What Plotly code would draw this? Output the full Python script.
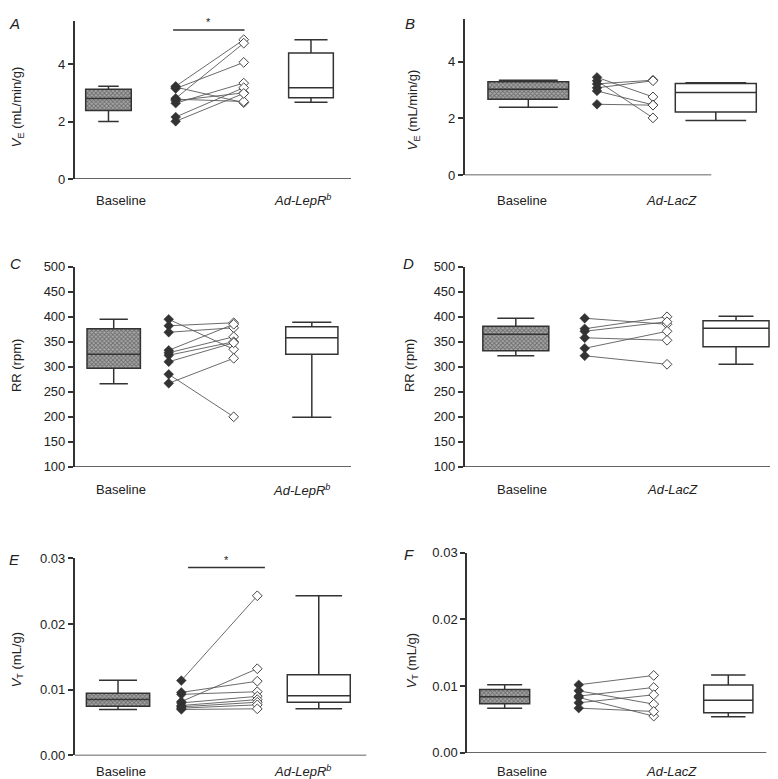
import plotly.graph_objects as go

W, H = 778, 779

# ---------------- data (box stats: min, q1, median, q3, max) ----------------
A_baseline_box = [2.00, 2.39, 2.80, 3.13, 3.23]
A_treat_box = [2.67, 2.83, 3.18, 4.39, 4.85]
A_before = [3.23, 3.15, 2.81, 3.20, 2.78, 2.73, 2.64, 2.16, 2.01]
A_after = [4.85, 4.06, 4.73, 2.66, 2.70, 3.00, 3.34, 3.18, 2.98]

B_baseline_box = [2.40, 2.68, 3.03, 3.30, 3.35]
B_treat_box = [1.93, 2.23, 2.92, 3.23, 3.26]
B_before = [3.45, 3.33, 3.22, 3.08, 2.97, 2.50]
B_after = [2.76, 2.02, 3.35, 3.33, 2.48, 2.47]

C_baseline_box = [266, 297, 325, 376, 395]
C_treat_box = [199, 325, 358, 380, 389]
C_before = [395, 382, 369, 333, 328, 323, 310, 285, 267]
C_after = [335, 388, 378, 385, 360, 350, 348, 200, 317]

D_baseline_box = [322, 332, 365, 381, 397]
D_treat_box = [305, 340, 377, 392, 401]
D_before = [397, 376, 371, 358, 337, 322]
D_after = [385, 400, 390, 353, 371, 305]

E_baseline_box = [0.0070, 0.0075, 0.0085, 0.00945, 0.01145]
E_treat_box = [0.0071, 0.0081, 0.0091, 0.0123, 0.0243]
E_before = [0.0114, 0.0096, 0.0093, 0.0082, 0.0080, 0.0076, 0.0074, 0.0072, 0.0070]
E_after = [0.0243, 0.0113, 0.0097, 0.0132, 0.0090, 0.0085, 0.0081, 0.0077, 0.0071]

F_baseline_box = [0.0067, 0.00735, 0.0084, 0.0095, 0.0102]
F_treat_box = [0.0054, 0.0060, 0.0079, 0.01015, 0.01166]
F_before = [0.0102, 0.0093, 0.0085, 0.0083, 0.0075, 0.0067]
F_after = [0.0116, 0.0073, 0.0098, 0.0055, 0.0087, 0.0062]

treat_labels = {"A": "<i>Ad-LepR</i><sup><i>b</i></sup>", "B": "<i>Ad-LacZ</i>",
                "C": "<i>Ad-LepR</i><sup><i>b</i></sup>", "D": "<i>Ad-LacZ</i>",
                "E": "<i>Ad-LepR</i><sup><i>b</i></sup>", "F": "<i>Ad-LacZ</i>"}
ve_title = "<i>V</i><sub>E</sub> (mL/min/g)"
rr_title = "RR (rpm)"
vt_title = "<i>V</i><sub>T</sub> (mL/g)"
ve_ticks = [0, 2, 4]
rr_ticks = [100, 150, 200, 250, 300, 350, 400, 450, 500]
vt_ticks = [0.00, 0.01, 0.02, 0.03]

data = {
    "A": (A_baseline_box, A_treat_box, A_before, A_after),
    "B": (B_baseline_box, B_treat_box, B_before, B_after),
    "C": (C_baseline_box, C_treat_box, C_before, C_after),
    "D": (D_baseline_box, D_treat_box, D_before, D_after),
    "E": (E_baseline_box, E_treat_box, E_before, E_after),
    "F": (F_baseline_box, F_treat_box, F_before, F_after),
}

# ---------------- layout geometry (pixels of the 778x779 page) ----------------
UNIT = 60.0  # px per x data unit
geo = {
    "A": dict(x0=66.7, x1=388, yt=6.15, yb=167.3, yr=[0, 5.5], pos=[0.563, 1.683, 2.817, 3.938],
              bw=[0.76, 0.745], ww=[0.45, 0.74], xend=4.605, ticks=ve_ticks, fmt="{:g}", title=ve_title,
              tpos=(9, 94), labx=(113, 294), laby=189, let=(6, 9)),
    "B": dict(x0=456.7, x1=778, yt=4.35, yb=163.3, yr=[0, 5.5], pos=[1.06, 2.205, 3.138, 4.185],
              bw=[1.345, 1.35], ww=[0.73, 0.75], xend=4.11, ticks=ve_ticks, fmt="{:g}", title=ve_title,
              tpos=(405, 97), labx=(514, 663), laby=189, let=(402, 9)),
    "C": dict(x0=66.7, x1=388, yt=256.7, yb=460.7, yr=[100, 500], pos=[0.65, 1.567, 2.65, 3.952],
              bw=[0.89, 0.87], ww=[0.53, 0.75], xend=4.605, ticks=rr_ticks, fmt="{:g}", title=rr_title,
              tpos=(8, 358), labx=(113, 293), laby=484, let=(8, 253)),
    "D": dict(x0=456.7, x1=778, yt=256.7, yb=460.7, yr=[100, 500], pos=[0.852, 2.0, 3.372, 4.522],
              bw=[1.1, 1.1], ww=[0.56, 0.53], xend=5.33, ticks=rr_ticks, fmt="{:g}", title=rr_title,
              tpos=(401, 358), labx=(514, 664), laby=484, let=(400, 253)),
    "E": dict(x0=66.7, x1=388, yt=554, yb=755, yr=[0, 0.03], pos=[0.722, 1.777, 3.043, 4.068],
              bw=[1.055, 1.05], ww=[0.6, 0.74], xend=4.86, ticks=vt_ticks, fmt="{:.2f}", title=vt_title,
              tpos=(9, 658), labx=(113, 294), laby=771, let=(6, 555)),
    "F": dict(x0=459, x1=778, yt=548.3, yb=752.3, yr=[0, 0.03], pos=[0.628, 1.862, 3.112, 4.355],
              bw=[0.833, 0.82], ww=[0.7, 0.7], xend=4.988, ticks=vt_ticks, fmt="{:.2f}", title=vt_title,
              tpos=(404, 659), labx=(514, 663), laby=771, let=(401, 550)),
}
sig = {"A": (1.64, 2.83, 5.19), "E": (1.89, 3.17, 0.0286)}

AX = "#333333"
TXT = "#222222"
FONT = "Liberation Sans, Arial, sans-serif"

fig = go.Figure()
shapes, annotations = [], []
layout_axes = {}

for i, key in enumerate(["A", "B", "C", "D", "E", "F"]):
    g = geo[key]
    base_box, treat_box, before, after = data[key]
    n = i + 1
    xa = "x" if n == 1 else f"x{n}"
    ya = "y" if n == 1 else f"y{n}"
    xname = "xaxis" if n == 1 else f"xaxis{n}"
    yname = "yaxis" if n == 1 else f"yaxis{n}"

    layout_axes[xname] = dict(domain=[g["x0"] / W, g["x1"] / W], range=[0, (g["x1"] - g["x0"]) / UNIT],
                              showline=False, showticklabels=False, showgrid=False, zeroline=False,
                              ticks="", anchor=ya, fixedrange=True)
    layout_axes[yname] = dict(domain=[1 - g["yb"] / H, 1 - g["yt"] / H], range=g["yr"],
                              showline=True, linecolor=AX, linewidth=1.5, ticks="outside", ticklen=5,
                              tickwidth=1.5, tickcolor=AX, tickvals=g["ticks"],
                              ticktext=[g["fmt"].format(t) for t in g["ticks"]],
                              tickfont=dict(size=13, color=TXT, family=FONT), showgrid=False,
                              zeroline=False, anchor=xa, fixedrange=True)

    p = g["pos"]
    # hatched baseline box body
    fig.add_trace(go.Bar(x=[p[0]], y=[base_box[3] - base_box[1]], base=[base_box[1]], width=[g["bw"][0]],
                         marker=dict(color="#8a8a8a", line=dict(width=0),
                                     pattern=dict(shape="x", fgcolor="#2e2e2e", bgcolor="#a8a8a8",
                                                  size=3, solidity=0.5)),
                         xaxis=xa, yaxis=ya, showlegend=False, hoverinfo="skip"))
    # baseline box outline / whiskers
    fig.add_trace(go.Box(x=[p[0]], lowerfence=[base_box[0]], q1=[base_box[1]], median=[base_box[2]],
                         q3=[base_box[3]], upperfence=[base_box[4]], width=g["bw"][0],
                         whiskerwidth=g["ww"][0], fillcolor="rgba(0,0,0,0)", boxpoints=False,
                         line=dict(color=AX, width=1.5), xaxis=xa, yaxis=ya, showlegend=False,
                         orientation="v"))
    # treatment box
    fig.add_trace(go.Box(x=[p[3]], lowerfence=[treat_box[0]], q1=[treat_box[1]], median=[treat_box[2]],
                         q3=[treat_box[3]], upperfence=[treat_box[4]], width=g["bw"][1],
                         whiskerwidth=g["ww"][1], fillcolor="white", boxpoints=False,
                         line=dict(color=AX, width=1.5), xaxis=xa, yaxis=ya, showlegend=False,
                         orientation="v"))
    # paired lines
    lx, ly = [], []
    for b, a in zip(before, after):
        lx += [p[1], p[2], None]
        ly += [b, a, None]
    fig.add_trace(go.Scatter(x=lx, y=ly, mode="lines", line=dict(color="#5a5a5a", width=0.9),
                             xaxis=xa, yaxis=ya, showlegend=False, hoverinfo="skip"))
    fig.add_trace(go.Scatter(x=[p[1]] * len(before), y=before, mode="markers",
                             marker=dict(symbol="diamond", size=7.5, color="#333333",
                                         line=dict(color="#333333", width=0.5)),
                             xaxis=xa, yaxis=ya, showlegend=False, cliponaxis=False))
    fig.add_trace(go.Scatter(x=[p[2]] * len(after), y=after, mode="markers",
                             marker=dict(symbol="diamond", size=7.5, color="white",
                                         line=dict(color="#444444", width=1)),
                             xaxis=xa, yaxis=ya, showlegend=False, cliponaxis=False))

    # x axis baseline (shorter than plot in the original)
    shapes.append(dict(type="line", xref=xa, yref=ya, x0=0, x1=g["xend"], y0=g["yr"][0], y1=g["yr"][0],
                       line=dict(color=AX, width=1.5), layer="above"))

    # significance bar
    if key in sig:
        s0, s1, sy = sig[key]
        shapes.append(dict(type="line", xref=xa, yref=ya, x0=s0, x1=s1, y0=sy, y1=sy,
                           line=dict(color=AX, width=1.5)))
        annotations.append(dict(x=(s0 + s1) / 2, y=sy, xref=xa, yref=ya, text="*", showarrow=False,
                                yanchor="bottom", yshift=0, font=dict(size=11, color="#222222", family=FONT)))

    # category labels
    annotations.append(dict(x=g["labx"][0] / W, y=1 - g["laby"] / H, xref="paper", yref="paper",
                            text="Baseline", showarrow=False, xanchor="center", yanchor="middle",
                            font=dict(size=13, color=TXT, family=FONT)))
    annotations.append(dict(x=g["labx"][1] / W, y=1 - g["laby"] / H, xref="paper", yref="paper",
                            text=treat_labels[key], showarrow=False, xanchor="center", yanchor="middle",
                            font=dict(size=13, color=TXT, family=FONT)))
    # y title
    annotations.append(dict(x=g["tpos"][0] / W, y=1 - g["tpos"][1] / H, xref="paper", yref="paper",
                            text=g["title"], showarrow=False, textangle=-90, xanchor="center",
                            yanchor="middle", font=dict(size=13, color=TXT, family=FONT)))
    # panel letter
    annotations.append(dict(x=g["let"][0] / W, y=1 - g["let"][1] / H, xref="paper", yref="paper",
                            text=f"<i>{key}</i>", showarrow=False, xanchor="center", yanchor="middle",
                            font=dict(size=15, color=TXT, family=FONT)))

fig.update_layout(width=W, height=H, margin=dict(l=0, r=0, t=0, b=0), plot_bgcolor="white",
                  paper_bgcolor="white", shapes=shapes, annotations=annotations, bargap=0,
                  font=dict(family=FONT, color=TXT), showlegend=False, **layout_axes)

fig.write_html("out.html")
